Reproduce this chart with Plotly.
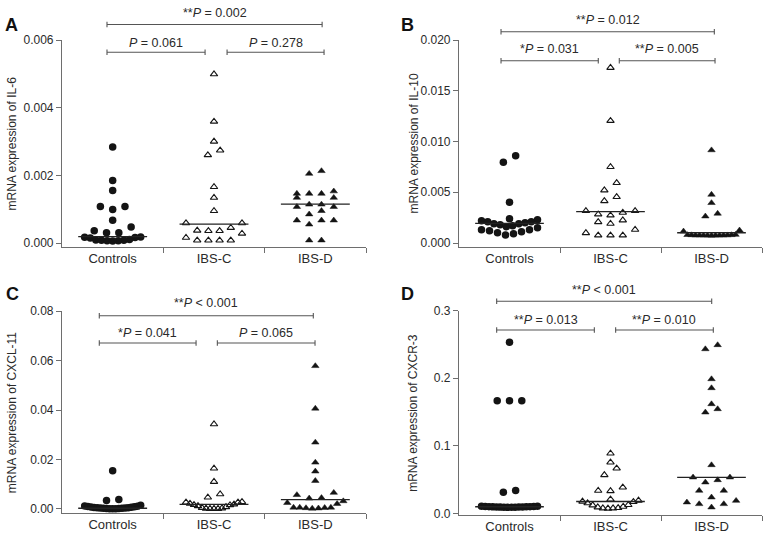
import numpy as np
import plotly.graph_objects as go

# ---------------- data ----------------
groups = ["Controls", "IBS-C", "IBS-D"]

# Panel A: IL-6
il6_controls = [0.00284, 0.00185, 0.00155, 0.00108, 0.00099, 0.00108, 0.00067, 0.00047,
                0.00036, 0.00030, 0.00030, 0.00018, 0.00017, 0.00016, 0.00015, 0.00010,
                0.00009, 0.00008, 0.00008, 0.00007, 0.00007, 0.00006]
il6_ibsc = [0.00499, 0.00359, 0.00300, 0.00274, 0.00260, 0.00166, 0.00134, 0.00095,
            0.00059, 0.00059, 0.00036, 0.00037, 0.00045, 0.00028, 0.00036, 0.00016,
            0.00008, 0.00008, 0.00008, 0.00008]
il6_ibsd = [0.00205, 0.00213, 0.00146, 0.00134, 0.00153, 0.00134, 0.00146, 0.00146,
            0.00114, 0.00107, 0.00095, 0.00107, 0.00114, 0.00085, 0.00067, 0.00067,
            0.00055, 0.00067, 0.00008, 0.00008]
il6_medians = [0.00019, 0.00056, 0.00115]

# Panel B: IL-10
il10_controls = [0.00859, 0.00796, 0.00401, 0.0024, 0.0023, 0.0022, 0.0021, 0.0021,
                 0.0020, 0.0019, 0.0019, 0.0018, 0.0017, 0.0016, 0.0015, 0.0013,
                 0.0013, 0.0012, 0.0011, 0.0010, 0.0009, 0.0008]
il10_ibsc = [0.01727, 0.01204, 0.0075, 0.00592, 0.0052, 0.00414, 0.00454, 0.0030,
             0.00316, 0.00273, 0.00283, 0.00316, 0.00207, 0.00224, 0.00191, 0.00132,
             0.00076, 0.00076, 0.00076, 0.00099]
il10_ibsd = [0.00915, 0.00477, 0.00395, 0.0029, 0.00263, 0.00125, 0.00115, 0.00082,
             0.00080, 0.00079, 0.00078, 0.00077, 0.00076, 0.00076, 0.00076, 0.00075,
             0.00075, 0.00074, 0.00074, 0.00073]
il10_medians = [0.00194, 0.00310, 0.00101]

# Panel C: CXCL-11
cxcl11_controls = [0.0155, 0.0038, 0.0034, 0.0015, 0.0012, 0.0011, 0.0010, 0.0009,
                   0.0008, 0.0007, 0.0006, 0.0005, 0.0005, 0.0004, 0.0004, 0.0003,
                   0.0003, 0.0002, 0.0002, 0.0001, 0.0001, 0.0001]
cxcl11_ibsc = [0.0343, 0.0164, 0.0110, 0.0060, 0.0047, 0.0029, 0.0027, 0.0027,
               0.0022, 0.0019, 0.0017, 0.0016, 0.0012, 0.0008, 0.0005, 0.0003,
               0.0002, 0.0001, 0.0001, 0.0001]
cxcl11_ibsd = [0.0578, 0.0406, 0.0269, 0.0188, 0.0152, 0.0114, 0.0066, 0.0057,
               0.0045, 0.0043, 0.0032, 0.0025, 0.0021, 0.0006, 0.0005, 0.0006,
               0.0003, 0.0002, 0.0004, 0.0006]
cxcl11_medians = [0.0003, 0.0019, 0.0038]

# Panel D: CXCR-3
cxcr3_controls = [0.2531, 0.1668, 0.1668, 0.1668, 0.0336, 0.0311, 0.0105, 0.0103,
                  0.0101, 0.0100, 0.0099, 0.0098, 0.0097, 0.0096, 0.0095, 0.0094,
                  0.0093, 0.0092, 0.0091, 0.0090, 0.0089, 0.0088]
cxcr3_ibsc = [0.0888, 0.0755, 0.0666, 0.0567, 0.0385, 0.0336, 0.0330, 0.0207,
              0.0190, 0.0175, 0.0170, 0.0150, 0.0125, 0.0120, 0.0100, 0.0090,
              0.0080, 0.0075, 0.0075, 0.0072]
cxcr3_ibsd = [0.2432, 0.2492, 0.1988, 0.1855, 0.1618, 0.1544, 0.1495, 0.0715,
              0.0533, 0.0493, 0.0533, 0.0459, 0.0336, 0.0336, 0.0237, 0.0187,
              0.0138, 0.0163, 0.0138, 0.0089]
cxcr3_medians = [0.0097, 0.0175, 0.0533]

titles = ["mRNA expression of IL-6", "mRNA expression of IL-10",
          "mRNA expression of CXCL-11", "mRNA expression of CXCR-3"]
letters = ["A", "B", "C", "D"]
tick_values = [[0, 0.002, 0.004, 0.006],
               [0, 0.005, 0.010, 0.015, 0.020],
               [0, 0.02, 0.04, 0.06, 0.08],
               [0, 0.1, 0.2, 0.3]]
tick_formats = [".3f", ".3f", ".2f", ".1f"]
p_texts = [["**<i>P</i> = 0.002", "<i>P</i> = 0.061", "<i>P</i> = 0.278"],
           ["**<i>P</i> = 0.012", "*<i>P</i> = 0.031", "**<i>P</i> = 0.005"],
           ["**<i>P</i> &lt; 0.001", "*<i>P</i> = 0.041", "<i>P</i> = 0.065"],
           ["**<i>P</i> &lt; 0.001", "**<i>P</i> = 0.013", "**<i>P</i> = 0.010"]]

panel_data = [
    [il6_controls, il6_ibsc, il6_ibsd, il6_medians],
    [il10_controls, il10_ibsc, il10_ibsd, il10_medians],
    [cxcl11_controls, cxcl11_ibsc, cxcl11_ibsd, cxcl11_medians],
    [cxcr3_controls, cxcr3_ibsc, cxcr3_ibsd, cxcr3_medians],
]

# ---------------- layout geometry (pixels) ----------------
FW, FH = 770, 538
geo = [
    dict(x=(62, 366), y=(40, 247), ymin=-0.000118, ymax=0.006),
    dict(x=(459, 762), y=(40, 247), ymin=-0.000394, ymax=0.020),
    dict(x=(62, 366), y=(311, 513.3), ymin=-0.00174, ymax=0.08),
    dict(x=(459, 762), y=(310.7, 515.0), ymin=-0.0025, ymax=0.3),
]
# brackets: (cat_start, cat_end, y_px_line, y_px_text)
brackets = [
    [(-0.056, 2.067, 24.5, 12.5), (-0.056, 0.912, 52.3, 43.0), (1.129, 2.086, 52.3, 43.0)],
    [(-0.084, 2.028, 31.7, 20.0), (-0.084, 0.879, 60.7, 49.5), (1.087, 2.035, 60.7, 49.5)],
    [(-0.132, 1.980, 315.7, 302.5), (-0.132, 0.823, 343.0, 332.5), (1.033, 1.997, 343.0, 332.5)],
    [(-0.127, 2.002, 301.3, 289.7), (-0.127, 0.840, 330.0, 319.7), (1.051, 2.018, 330.0, 319.7)],
]
letter_pos = [(11, 25), (407, 25), (12, 294), (407, 294)]
title_x = [11, 413, 12, 413]

FONT = "Liberation Sans, Arial, sans-serif"
AX = "#6e6e6e"
TXT = "#2a2a2a"
PT = "#141414"


def px2px(xpx):
    return xpx / FW


def py2py(ypx):
    return 1 - ypx / FH


def swarm(vals, ppu, cat_px, s_px=12.3, h_px=8.0, w_px=28.0):
    vals = np.asarray(vals, float)
    order = np.argsort(vals, kind="stable")
    offs = np.zeros(len(vals))
    rows, cur, start = [], [], None
    for i in order:
        if start is None or (vals[i] - start) * ppu > h_px:
            if cur:
                rows.append(cur)
            cur, start = [i], vals[i]
        else:
            cur.append(i)
    if cur:
        rows.append(cur)
    for row in rows:
        n = len(row)
        sp = s_px if n < 2 else min(s_px, 2 * w_px / (n - 1))
        pos = sorted([k - (n - 1) / 2 for k in range(n)], key=lambda p: (abs(p), p))
        for idx, p in zip(row, pos):
            offs[idx] = p * sp / cat_px
    return offs


marker_styles = [
    dict(symbol="circle", size=7.5, color=PT, line=dict(width=0)),
    dict(symbol="triangle-up-open", size=6.5, color=PT, line=dict(width=1.1, color=PT)),
    dict(symbol="triangle-up", size=6.5, color=PT, line=dict(width=0.5, color=PT)),
]

fig = go.Figure()
shapes, annotations = [], []
layout = {}

for k in range(4):
    g = geo[k]
    xs = "" if k == 0 else str(k + 1)
    xa, ya = "x" + xs, "y" + xs
    cat_px = (g["x"][1] - g["x"][0]) / 3.0
    ppu = (g["y"][1] - g["y"][0]) / (g["ymax"] - g["ymin"])
    data = panel_data[k]
    for gi in range(3):
        vals = data[gi]
        offs = swarm(vals, ppu, cat_px)
        fig.add_trace(go.Scatter(
            x=gi + offs, y=vals, mode="markers", xaxis=xa, yaxis=ya,
            marker=marker_styles[gi], showlegend=False, hoverinfo="skip",
            cliponaxis=False))
    meds = data[3]
    for gi in range(3):
        fig.add_trace(go.Scatter(
            x=[gi - 0.34, gi + 0.34], y=[meds[gi], meds[gi]], mode="lines",
            xaxis=xa, yaxis=ya, line=dict(color="#222", width=1.3),
            showlegend=False, hoverinfo="skip"))

    layout["xaxis" + xs] = dict(
        domain=[px2px(g["x"][0]), px2px(g["x"][1])], anchor=ya,
        range=[-0.5, 2.5], tickmode="array", tickvals=[0, 1, 2], ticktext=groups,
        ticks="", showline=True, linecolor=AX, linewidth=1.2, showgrid=False,
        zeroline=False, tickfont=dict(family=FONT, size=13, color=TXT),
        ticklabelstandoff=-1,
        minor=dict(tickmode="array", tickvals=[0.5, 1.5, 2.5], ticks="outside",
                   ticklen=5, tickcolor=AX, tickwidth=1.2, showgrid=False),
        automargin=False, fixedrange=True)
    layout["yaxis" + xs] = dict(
        domain=[py2py(g["y"][1]), py2py(g["y"][0])], anchor=xa,
        range=[g["ymin"], g["ymax"]], tickmode="array", tickvals=tick_values[k],
        tickformat=tick_formats[k], ticks="outside", ticklen=5, tickcolor=AX,
        tickwidth=1.2, showline=True, linecolor=AX, linewidth=1.2, showgrid=False,
        zeroline=False, tickfont=dict(family=FONT, size=12, color=TXT),
        automargin=False, fixedrange=True)

    for bi, (c0, c1, ypl, ypt) in enumerate(brackets[k]):
        x0 = g["x"][0] + (c0 + 0.5) * cat_px
        x1 = g["x"][0] + (c1 + 0.5) * cat_px
        lc = dict(color="#555", width=1.1)
        shapes.append(dict(type="line", xref="paper", yref="paper",
                           x0=px2px(x0), x1=px2px(x1), y0=py2py(ypl), y1=py2py(ypl), line=lc))
        for xe in (x0, x1):
            shapes.append(dict(type="line", xref="paper", yref="paper",
                               x0=px2px(xe), x1=px2px(xe),
                               y0=py2py(ypl - 2.8), y1=py2py(ypl + 2.8), line=lc))
        annotations.append(dict(
            xref="paper", yref="paper", x=px2px((x0 + x1) / 2), y=py2py(ypt),
            text=p_texts[k][bi], showarrow=False, xanchor="center", yanchor="middle",
            font=dict(family=FONT, size=12.5, color=TXT)))

    annotations.append(dict(
        xref="paper", yref="paper", x=px2px(letter_pos[k][0]), y=py2py(letter_pos[k][1]),
        text="<b>%s</b>" % letters[k], showarrow=False, xanchor="center", yanchor="middle",
        font=dict(family=FONT, size=18, color="#111")))
    annotations.append(dict(
        xref="paper", yref="paper", x=px2px(title_x[k]),
        y=py2py((g["y"][0] + g["y"][1]) / 2), text=titles[k], textangle=-90,
        showarrow=False, xanchor="center", yanchor="middle",
        font=dict(family=FONT, size=12, color=TXT)))

fig.update_layout(
    width=FW, height=FH, margin=dict(l=0, r=0, t=0, b=0, autoexpand=False),
    paper_bgcolor="white", plot_bgcolor="white",
    shapes=shapes, annotations=annotations, **layout)

fig.write_html("out.html", config={"displayModeBar": False},
               post_script="document.body.style.margin='0px';document.body.style.padding='0px';")
